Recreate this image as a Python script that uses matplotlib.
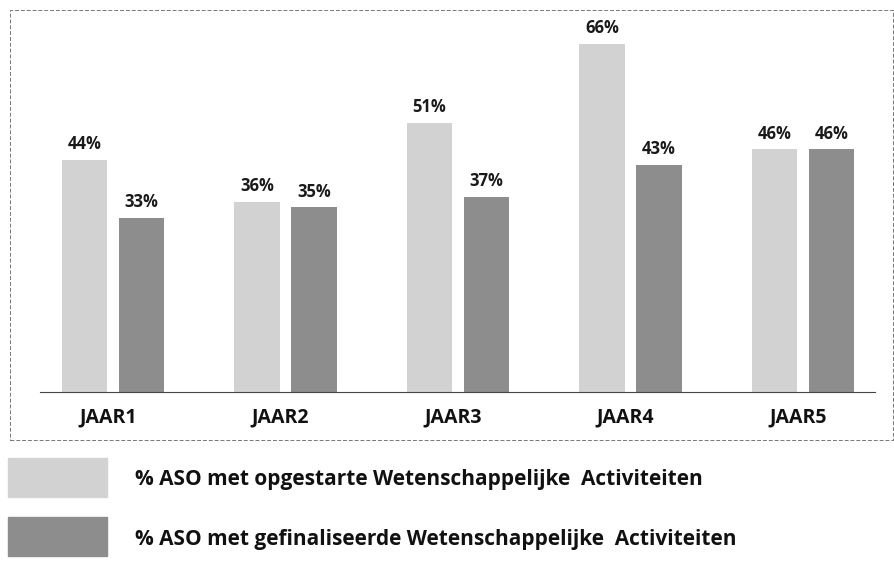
import matplotlib.pyplot as plt
from matplotlib.patches import Rectangle
import numpy as np

# Data
jaren = ["JAAR1", "JAAR2", "JAAR3", "JAAR4", "JAAR5"]
opgestart = [44, 36, 51, 66, 46]
gefinaliseerd = [33, 35, 37, 43, 46]
legend_labels = ["% ASO met opgestarte Wetenschappelijke  Activiteiten",
                 "% ASO met gefinaliseerde Wetenschappelijke  Activiteiten"]
colors = ["#d2d2d2", "#8d8d8d"]

plt.rcParams['font.family'] = ['Open Sans', 'DejaVu Sans']

W, H = 895, 562
fig = plt.figure(figsize=(W / 100, H / 100), dpi=100)

# Axes placed in pixel coords
left, right, top, bottom = 40, 875, 15, 392
ax = fig.add_axes([left / W, (H - bottom) / H, (right - left) / W, (bottom - top) / H])

x = np.arange(len(jaren))
w = 0.265
ax.bar(x - 0.165, opgestart, w, color=colors[0])
ax.bar(x + 0.165, gefinaliseerd, w, color=colors[1])

for xi, v in zip(x, opgestart):
    ax.text(xi - 0.165, v + 1.3, f"{v}%", ha='center', va='bottom',
            fontsize=12, fontweight='bold', color='#1a1a1a')
for xi, v in zip(x, gefinaliseerd):
    ax.text(xi + 0.165, v + 1.3, f"{v}%", ha='center', va='bottom',
            fontsize=12, fontweight='bold', color='#1a1a1a')

ax.set_xlim(-0.423, 4.417)
ax.set_ylim(0, 71.5)
ax.set_yticks([])
ax.set_xticks(x - 0.03)
ax.set_xticklabels(jaren, fontsize=14, fontweight='bold', color='#111111')
ax.tick_params(axis='x', length=0, pad=11)
for s in ['top', 'right', 'left']:
    ax.spines[s].set_visible(False)
ax.spines['bottom'].set_color('#444444')
ax.spines['bottom'].set_linewidth(0.8)

# Dashed frame around the chart area
fig.patches.append(Rectangle((10 / W, (H - 440) / H), (W - 12) / W, 430 / H,
                             transform=fig.transFigure, fill=False,
                             ls=(0, (4, 2)), lw=0.7, ec='#777777'))

# Legend below the chart
for i, (lab, c) in enumerate(zip(legend_labels, colors)):
    y0 = 458 + i * 59
    fig.patches.append(Rectangle((8 / W, (H - y0 - 39) / H), 99 / W, 39 / H,
                                 transform=fig.transFigure, color=c))
    fig.text(135 / W, (H - y0 - 22) / H, lab, fontsize=15, fontweight='bold',
             va='center', ha='left', color='#111111')

fig.savefig("out.png", dpi=100)
